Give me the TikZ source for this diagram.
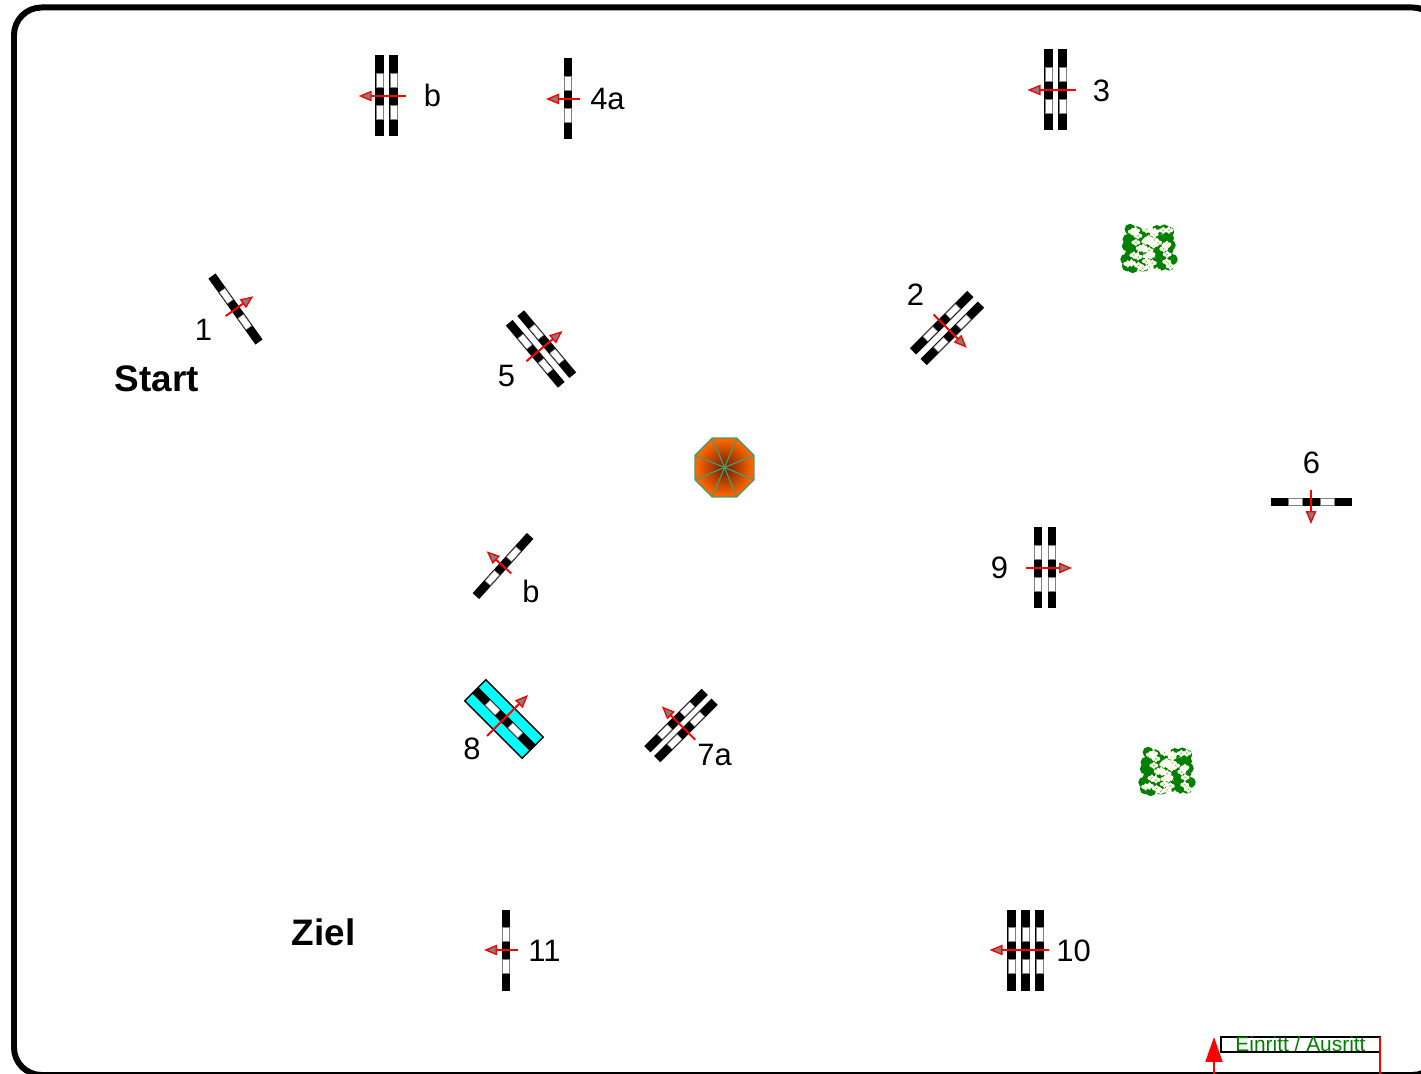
\documentclass[tikz,border=0pt]{standalone}
\usepackage{fontspec}
\setmainfont{Liberation Sans}
\usetikzlibrary{arrows.meta}
\definecolor{schirmrand}{HTML}{4A9A6A}
\definecolor{schirmorange}{HTML}{FF6600}
\definecolor{schirmdunkel}{HTML}{6A1E00}
\definecolor{buschgruen}{HTML}{008000}
\definecolor{blume}{HTML}{FFFFF0}
\definecolor{matte}{HTML}{00FFFF}
\pgfdeclareradialshading{schirmshade}{\pgfpoint{0bp}{0bp}}{color(0bp)=(schirmdunkel); color(24bp)=(schirmorange); color(50bp)=(schirmorange)}
\tikzset{
    lab/.style={inner sep=0pt, font=\fontsize{17.6}{20}\selectfont},
    startlab/.style={inner sep=0pt, font=\fontsize{21}{24}\selectfont\bfseries},
    polebar/.style={fill=black},
    polegap/.style={fill=white, draw=gray, line width=0.3pt},
    flag/.style={draw=red, line width=1.1pt, -{Triangle[length=0.26cm,width=0.21cm,line width=0.8pt,fill=gray]}},
}
% name, centre, rotation, bar offsets, arrow tail, arrow tip
\newcommand{\hindernis}[6]{
    \begin{scope}[shift={(#2)}, rotate=#3]
        \foreach \b in {#4} {
            \fill[polebar] (\b-4.4,-40.5) rectangle (\b+4.4,40.5);
            \draw[polegap] (\b-3.4,-23) rectangle (\b+3.4,-9);
            \draw[polegap] (\b-3.4,9) rectangle (\b+3.4,23);
        }
        \coordinate (#1tail) at (#5,0);
        \coordinate (#1tip) at (#6,0);
        \draw[flag] (#1tail) -- (#1tip);
    \end{scope}
}
\newcommand{\busch}[2]{
    \begin{scope}[shift={(#1,#2)}]
        \pgfmathsetseed{4711}
        \foreach \i in {-21,-14,...,21} { \foreach \j in {-19,-12,...,21} {
            \pgfmathsetmacro{\dx}{\i+2.5*rand} \pgfmathsetmacro{\dy}{\j+2.5*rand}
            \fill[buschgruen] (\dx,\dy) circle (5.5);
        } }
        \foreach \k in {1,...,42} {
            \pgfmathsetmacro{\dx}{22*rand} \pgfmathsetmacro{\dy}{21*rand}
            \fill[blume] (\dx-2.4,\dy) circle (2);
            \fill[blume] (\dx+2.4,\dy) circle (2);
            \fill[blume] (\dx,\dy-2) circle (1.8);
            \fill[blume] (\dx,\dy+2) circle (1.8);
        }
    \end{scope}
}

\begin{document}
\begin{tikzpicture}[x=0.02cm, y=-0.02cm]
    \useasboundingbox (0,0) rectangle (1421,1074);
    \clip (0,0) rectangle (1421,1074);
    \draw[line width=0.12cm, rounded corners=0.55cm] (14,7.5) rectangle (1440,1075);

    \hindernis{topb}{386.7,96}{0}{-7,7}{19}{-28}
    \hindernis{viera}{568,99}{0}{0}{12}{-22}
    \hindernis{drei}{1055.5,90}{0}{-7,7}{20}{-28}
    \hindernis{eins}{235.5,309}{-144.5}{0}{12}{-22}
    \hindernis{fuenf}{541,349}{-140}{-7.5,7.5}{19}{-28}
    \hindernis{zwei}{947,328}{135}{-7.5,7.5}{19}{-28}
    \hindernis{sechs}{1311,502}{90}{0}{12}{-22}
    \hindernis{neun}{1045,568}{180}{-7,7}{19}{-27}
    \hindernis{midb}{503,566}{-42}{0}{11}{-22}
    \begin{scope}[shift={(504,719)}, rotate=-135]
        \filldraw[fill=matte, draw=black, line width=0.8pt] (-15,-40.5) rectangle (15,40.5);
    \end{scope}
    \hindernis{acht}{504,719}{-135}{0}{24}{-34}
    \hindernis{siebena}{681,725.5}{-45}{-7,7}{20}{-27}
    \hindernis{elf}{506,950}{0}{0}{12}{-22}
    \hindernis{zehn}{1025.5,950}{0}{-14,0,14}{23}{-36}

    % schirm
    \begin{scope}[shift={(724.5,467.5)}]
        \shade[shading=schirmshade] (22.5:31.9) -- (67.5:31.9) -- (112.5:31.9) -- (157.5:31.9) -- (202.5:31.9) -- (247.5:31.9) -- (292.5:31.9) -- (337.5:31.9) -- cycle;
        \draw[schirmrand, line width=0.8pt] (22.5:31.9) -- (67.5:31.9) -- (112.5:31.9) -- (157.5:31.9) -- (202.5:31.9) -- (247.5:31.9) -- (292.5:31.9) -- (337.5:31.9) -- cycle;
        \foreach \a in {22.5,67.5,...,337.5} { \draw[schirmrand, line width=0.7pt] (0,0) -- (\a:31.9); }
        \fill[schirmrand] (0,0) circle (2);
    \end{scope}

    \busch{1149}{250.5}
    \busch{1167}{773.5}

    \node[lab] (labtopb) at (432.5,95.5) {b};
    \node[lab] (labviera) at (607.5,99.5) {4a};
    \node[lab] (labdrei) at (1101.5,90.5) {3};
    \node[lab] (labzwei) at (915.5,294.5) {2};
    \node[lab] (labeins) at (203.5,330) {1};
    \node[lab] (labfuenf) at (506.5,376) {5};
    \node[lab] (labsechs) at (1311.5,462.5) {6};
    \node[lab] (labneun) at (999.5,567.5) {9};
    \node[lab] (labmidb) at (531,591.5) {b};
    \node[lab] (labacht) at (472,749) {8};
    \node[lab] (labsiebena) at (714.5,755.5) {7a};
    \node[lab] (labelf) at (544.5,950.5) {11};
    \node[lab] (labzehn) at (1073.5,950.5) {10};
    \node[startlab] (start) at (157,379) {Start};
    \node[startlab] (ziel) at (323.5,932) {Ziel};

    % eintritt
    \node[draw=black, line width=1.1pt, minimum width=3.18cm, minimum height=0.3cm, inner sep=0pt, text=buschgruen, font=\fontsize{11.9}{12}\selectfont] (eintritt) at (1300.5,1044.5) {\raisebox{-1pt}{Einritt / Ausritt}};
    \coordinate (einfrom) at (1214,1074);
    \coordinate (eintip) at (1214,1037);
    \coordinate (ausfrom) at (1380,1037);
    \coordinate (ausend) at (1380,1074);
    \draw[red, line width=1.1pt, -{Triangle[length=0.5cm,width=0.34cm]}] (einfrom) -- (eintip);
    \draw[red, line width=1.1pt] (ausfrom) -- (ausend);
\end{tikzpicture}
\end{document}
